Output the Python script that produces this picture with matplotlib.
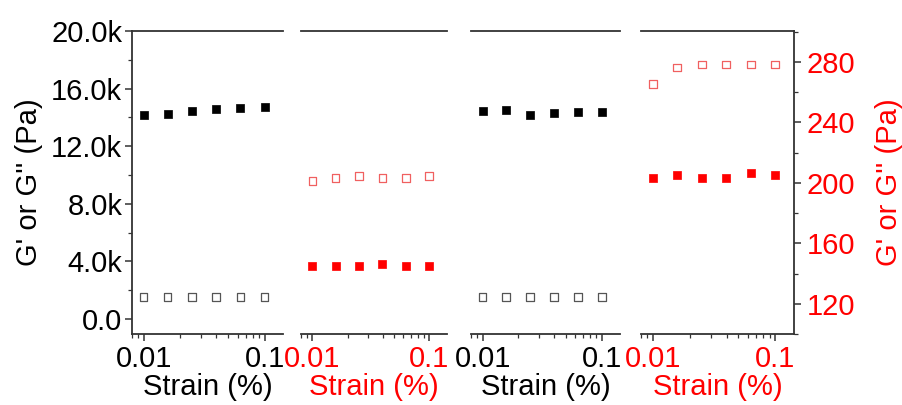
import matplotlib

matplotlib.use("Agg")
import matplotlib.pyplot as plt  # noqa: E402
from matplotlib.ticker import FixedLocator, MultipleLocator, FuncFormatter  # noqa: E402

plt.rcParams.update({"font.family": ["Liberation Sans", "DejaVu Sans"],
                     "font.size": 21})

# strain sweep points (%), same for every panel
strain = [0.01, 0.0158, 0.0251, 0.0398, 0.0631, 0.1]

# panel 1 and 3: black, left axis (Pa)
g1_store = [14200, 14270, 14480, 14580, 14670, 14720]
g1_loss = [1540, 1540, 1540, 1540, 1540, 1540]
g3_store = [14480, 14530, 14190, 14280, 14390, 14390]
g3_loss = [1550, 1550, 1550, 1550, 1550, 1550]

# panel 2 and 4: red, right axis (Pa)
g2_store = [145.2, 145.2, 145.2, 146.4, 145.2, 145.2]
g2_loss = [201.2, 203.4, 204.4, 203.1, 203.1, 204.4]
g4_store = [203.2, 205.4, 203.2, 203.2, 206.3, 205.4]
g4_loss = [265.3, 276.5, 278.5, 278.5, 278.5, 278.5]

left_ticks = [0, 4000, 8000, 12000, 16000, 20000]
right_ticks = [120, 160, 200, 240, 280]

BLACK = "#000000"
RED = "#ff0000"
SPINE = "#333333"

fig = plt.figure(figsize=(9.02, 4.05), dpi=100)
boxes = [(0.1463, 0.1674), (0.3337, 0.1619), (0.5222, 0.1652), (0.7106, 0.1696)]
bottom, height = 0.1753, 0.748

panels = [
    (g1_store, g1_loss, BLACK, "#555555", "left"),
    (g2_store, g2_loss, RED, "#f06060", "right"),
    (g3_store, g3_loss, BLACK, "#555555", "left"),
    (g4_store, g4_loss, RED, "#f06060", "right"),
]

for i, ((x0, w), (gs, gl, col, hcol, scale)) in enumerate(zip(boxes, panels)):
    ax = fig.add_axes([x0, bottom, w, height])
    ax.set_xscale("log")
    ax.set_xlim(0.008, 0.142)
    ax.scatter(strain, gs, marker="s", s=38, color=col, edgecolors=col, linewidths=0.5, zorder=3)
    ax.scatter(strain, gl, marker="s", s=30, facecolors="none", edgecolors=hcol, linewidths=0.9, zorder=3)

    if scale == "left":
        ax.set_ylim(-1040, 20000)
    else:
        ax.set_ylim(100, 300.5)

    for side in ["left", "right", "top", "bottom"]:
        ax.spines[side].set_color(SPINE)
        ax.spines[side].set_linewidth(1.3)
    ax.spines["left"].set_visible(i == 0)
    ax.spines["right"].set_visible(i == 3)

    ax.xaxis.set_major_locator(FixedLocator([0.01, 0.1]))
    ax.xaxis.set_major_formatter(FuncFormatter(lambda v, p: f"{v:g}"))
    ax.tick_params(axis="x", which="major", direction="out", length=5, width=1.1,
                   colors=SPINE, labelcolor=col, pad=3, top=False)
    ax.tick_params(axis="x", which="minor", direction="out", length=3, width=0.9,
                   colors=SPINE, top=False)
    ax.set_xlabel("Strain (%)", color=col, labelpad=0)

    if i == 0:
        ax.yaxis.set_major_locator(FixedLocator(left_ticks))
        ax.yaxis.set_minor_locator(MultipleLocator(2000))
        ax.yaxis.set_major_formatter(FuncFormatter(lambda v, p: f"{v / 1000:.1f}k" if v else "0.0"))
        ax.tick_params(axis="y", which="major", direction="out", length=5, width=1.1,
                       colors=SPINE, labelcolor=BLACK, pad=2, right=False)
        ax.tick_params(axis="y", which="minor", direction="out", length=3, width=0.9,
                       colors=SPINE, right=False)
        ax.set_ylabel("G' or G'' (Pa)", color=BLACK, labelpad=6)
    elif i == 3:
        ax.yaxis.tick_right()
        ax.yaxis.set_label_position("right")
        ax.yaxis.set_major_locator(FixedLocator(right_ticks))
        ax.yaxis.set_minor_locator(MultipleLocator(20))
        ax.tick_params(axis="y", which="major", direction="out", length=5, width=1.1,
                       colors=SPINE, labelcolor=RED, pad=4, left=False)
        ax.tick_params(axis="y", which="minor", direction="out", length=3, width=0.9,
                       colors=SPINE, left=False)
        ax.set_ylabel("G' or G'' (Pa)", color=RED, labelpad=14)
    else:
        ax.tick_params(axis="y", which="both", left=False, right=False, labelleft=False)

fig.savefig("out.png", dpi=100)
